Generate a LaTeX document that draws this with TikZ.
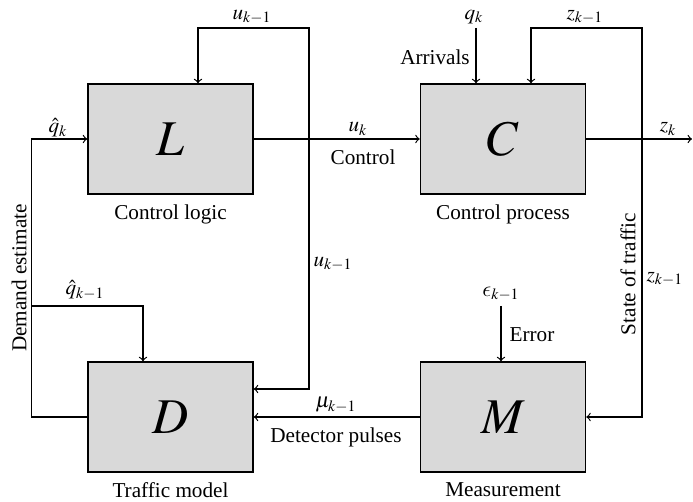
\documentclass[tikz,border=0pt]{standalone}
\usepackage{mathptmx}
\usepackage{fontspec}
\setmainfont{Liberation Serif}
\usetikzlibrary{calc}
\DeclareSymbolFont{cmletters}{OML}{cmm}{m}{it}
\DeclareMathSymbol{\lunateeps}{\mathord}{cmletters}{"0F}
\definecolor{boxgray}{RGB}{217,217,217}
\newcommand{\pxunit}{0.5pt}
\newcommand{\lw}{0.6pt}

\begin{document}
\begin{tikzpicture}[x = \pxunit, y = -\pxunit, font = \fontsize{10.6}{12.7}\selectfont, inner sep = 1pt,
  block/.style = {draw, fill = boxgray, line width = 0.8pt, minimum width = 82.5pt, minimum height = 55pt, inner sep = 0pt, font = \fontsize{25}{30}\selectfont}]
\useasboundingbox (0,0) rectangle (693,502);
\node[block] (L) at (170.5,139) {$L$};
\node[block] (C) at (503,139) {$C$};
\node[block] (D) at (170.5,417) {$D$};
\node[block] (M) at (503,417) {$M$};
\node (Llab) at (170.5,214) {Control logic};
\node (Clab) at (503,214) {Control process};
\node (Dlab) at (170.5,490) {Traffic model};
\node (Mlab) at (503,490) {Measurement};
\coordinate (qbr) at (32,306);
\coordinate (ubr) at (309,139);
\coordinate (utop) at (309,28);
\coordinate (zbr) at (642,139);
\coordinate (ztop) at (642,28);
\coordinate (qin) at (476,28);
\coordinate (ein) at (501,306);
\coordinate (zout) at (692,139);
\draw [->, line width = \lw] (D.west) -- ++(-56,0) |- (L.west);
\draw [->, line width = \lw] (qbr) -| ($(D.north)+(-27.5,0)$);
\draw [->, line width = \lw] (L.east) -- (C.west);
\draw [->, line width = \lw] (ubr) -- (utop) -| ($(L.north)+(27.5,0)$);
\draw [->, line width = \lw] (ubr) |- ($(D.east)+(0,-28)$);
\draw [->, line width = \lw] (qin) -- (qin |- C.north);
\draw [->, line width = \lw] (zbr) -- (ztop) -| ($(C.north)+(28,0)$);
\draw [->, line width = \lw] (zbr) |- (M.east);
\draw [->, line width = \lw] (C.east) -- (zout);
\draw [->, line width = \lw] (ein) -- (ein |- M.north);
\draw [->, line width = \lw] (M.west) -- (D.east);
\node (qk) at (58,128) {$\hat{q}_k$};
\node (uk1top) at (252,17) {$u_{k-1}$};
\node (uk) at (358,129) {$u_k$};
\node (ctrl) at (363,157) {Control};
\node (qin lab) at (474,17) {$q_k$};
\node (arr) at (435,57) {Arrivals};
\node (zk1top) at (585,17) {$z_{k-1}$};
\node (zk) at (668,129) {$z_k$};
\node[rotate = 90] (dem) at (19,278) {Demand estimate};
\node (qk1) at (85,290) {$\hat{q}_{k-1}$};
\node (uk1mid) at (333,264) {$u_{k-1}$};
\node[rotate = 90] (state) at (628,274) {State of traffic};
\node (zk1mid) at (665,279) {$z_{k-1}$};
\node (ek1) at (501,294) {$\lunateeps_{k-1}$};
\node (err) at (532,335) {Error};
\node (mu) at (336,405) {$\mu_{k-1}$};
\node (det) at (336,437) {Detector pulses};
\end{tikzpicture}
\end{document}
